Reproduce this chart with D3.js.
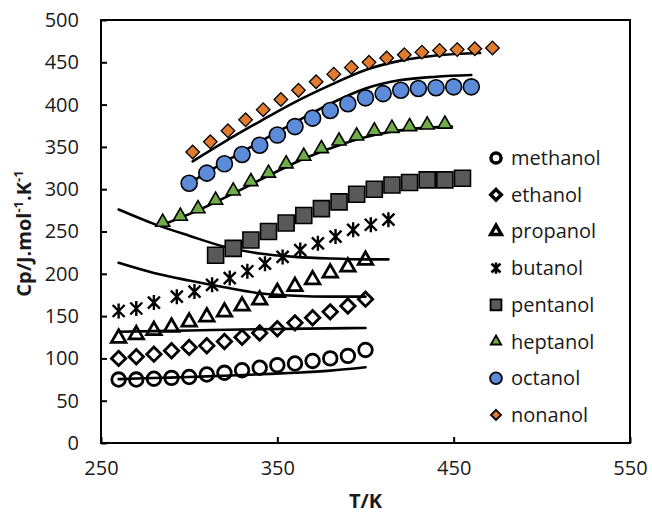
<!DOCTYPE html>
<html>
<head>
<meta charset="utf-8">
<script src="https://cdn.jsdelivr.net/npm/d3@7"></script>
<style>
  html, body { margin: 0; padding: 0; background: #fff; }
  svg { display: block; }
  text { font-family: "Open Sans", "Noto Sans", sans-serif; fill: #1a1a1a; }
</style>
</head>
<body>
<svg id="chart" width="652" height="514"></svg>
<script>
// ---------- data ----------
const seriesNames = ["methanol", "ethanol", "propanol", "butanol", "pentanol", "heptanol", "octanol", "nonanol"];

const tMethanol = [260, 270, 280, 290, 300, 310, 320, 330, 340, 350, 360, 370, 380, 390, 400];
const cpMethanol = [75, 75, 76, 77, 78, 81, 83, 86, 89, 92, 94, 97, 100, 103, 110];

const tEthanol = [260, 270, 280, 290, 300, 310, 320, 330, 340, 350, 360, 370, 380, 390, 400];
const cpEthanol = [100, 102, 105, 109, 113, 115, 120, 125, 130, 135, 142, 148, 155, 162, 170];

const tPropanol = [260, 270, 280, 290, 300, 310, 320, 330, 340, 350, 360, 370, 380, 390, 400];
const cpPropanol = [124, 128, 133, 137, 143, 149, 155, 162, 169, 178, 185, 193, 201, 208, 216];

const tButanol = [260, 270, 280, 293, 303, 313, 323, 333, 343, 353, 363, 373, 383, 393, 403, 413];
const cpButanol = [156, 159, 166, 173, 179, 187, 195, 203, 212, 220, 228, 236, 244, 252, 258, 264];

const tPentanol = [315, 325, 335, 345, 355, 365, 375, 385, 395, 405, 415, 425, 435, 445, 455];
const cpPentanol = [222, 230, 240, 250, 260, 269, 277, 285, 294, 300, 305, 308, 311, 311, 313];

const tHeptanol = [285, 295, 305, 315, 325, 335, 345, 355, 365, 375, 385, 395, 405, 415, 425, 435, 445];
const cpHeptanol = [261, 268, 277, 287, 298, 309, 319, 330, 339, 348, 357, 363, 369, 372, 374, 376, 377];

const tOctanol = [300, 310, 320, 330, 340, 350, 360, 370, 380, 390, 400, 410, 420, 430, 440, 450, 460];
const cpOctanol = [307, 319, 330, 341, 352, 364, 374, 384, 393, 401, 408, 413, 417, 419, 420, 421, 421];

const tNonanol = [302, 312, 322, 332, 342, 352, 362, 372, 382, 392, 402, 412, 422, 432, 442, 452, 462, 472];
const cpNonanol = [344, 356, 369, 382, 394, 406, 417, 427, 436, 444, 450, 455, 459, 462, 464, 465, 466, 467];

// model (calculated) curves
const tModelMethanol = [260, 280, 300, 320, 340, 360, 380, 400];
const cpModelMethanol = [75.5, 76.8, 78, 79.5, 81.2, 83, 85.5, 89.5];
const tModelEthanol = [260, 300, 340, 380, 400];
const cpModelEthanol = [131.5, 133, 134.5, 135.5, 136];
const tModelPropanol = [260, 280, 300, 320, 340, 360, 380, 400];
const cpModelPropanol = [213, 201, 192, 184, 177, 174, 173, 173];
const tModelButanol = [260, 280, 300, 320, 340, 360, 380, 400, 413];
const cpModelButanol = [276, 259, 245, 232, 224, 220, 218, 217, 217];
const tModelHeptanol = [285, 305, 325, 345, 365, 385, 405, 425, 449];
const cpModelHeptanol = [258, 275, 295, 316, 336, 352, 364, 371, 374];
const tModelOctanol = [300, 320, 340, 360, 380, 400, 420, 440, 460];
const cpModelOctanol = [307, 332, 356, 379, 401, 419, 429, 433, 435];
const tModelNonanol = [302, 320, 340, 360, 380, 400, 420, 440, 465];
const cpModelNonanol = [333, 356, 380, 403, 423, 441, 452, 458, 461];

const xTicks = [250, 350, 450, 550];
const yTicks = [0, 50, 100, 150, 200, 250, 300, 350, 400, 450, 500];

// ---------- build ----------
const zip = (t, c) => t.map((v, i) => ({ t: v, cp: c[i] }));

const measured = [
  { name: "methanol", pts: zip(tMethanol, cpMethanol), shape: "circle", fill: "#ffffff", stroke: "#000", sw: 2.8, size: 6.8 },
  { name: "ethanol", pts: zip(tEthanol, cpEthanol), shape: "diamond", fill: "#ffffff", stroke: "#000", sw: 2.8, size: 7.2 },
  { name: "propanol", pts: zip(tPropanol, cpPropanol), shape: "triangle", fill: "#ffffff", stroke: "#000", sw: 2.8, size: 14.5 },
  { name: "butanol", pts: zip(tButanol, cpButanol), shape: "star", fill: "none", stroke: "#000", sw: 2.4, size: 7.5 },
  { name: "pentanol", pts: zip(tPentanol, cpPentanol), shape: "square", fill: "#595959", stroke: "#000", sw: 1.6, size: 16 },
  { name: "heptanol", pts: zip(tHeptanol, cpHeptanol), shape: "triangle", fill: "#70AD47", stroke: "#000", sw: 1.6, size: 14 },
  { name: "octanol", pts: zip(tOctanol, cpOctanol), shape: "circle", fill: "#5B8BD9", stroke: "#000", sw: 1.6, size: 8 },
  { name: "nonanol", pts: zip(tNonanol, cpNonanol), shape: "diamond", fill: "#E07B30", stroke: "#000", sw: 1.3, size: 6.8 }
];

const models = [
  zip(tModelMethanol, cpModelMethanol),
  zip(tModelEthanol, cpModelEthanol),
  zip(tModelPropanol, cpModelPropanol),
  zip(tModelButanol, cpModelButanol),
  zip(tModelHeptanol, cpModelHeptanol),
  zip(tModelOctanol, cpModelOctanol),
  zip(tModelNonanol, cpModelNonanol)
];

const svg = d3.select("#chart");
const L = 101, R = 630, T = 20, B = 443;

const x = d3.scaleLinear().domain([250, 550]).range([L, R]);
const y = d3.scaleLinear().domain([0, 500]).range([B, T]);

// marker path generator
function markerPath(shape, s) {
  if (shape === "circle") {
    return `M${s},0A${s},${s} 0 1,1 ${-s},0A${s},${s} 0 1,1 ${s},0Z`;
  }
  if (shape === "diamond") {
    return `M0,${-s}L${s},0L0,${s}L${-s},0Z`;
  }
  if (shape === "square") {
    const h = s / 2;
    return `M${-h},${-h}H${h}V${h}H${-h}Z`;
  }
  if (shape === "triangle") {
    const a = s, hgt = a * Math.sqrt(3) / 2;
    const top = -hgt * 2 / 3, bot = hgt / 3;
    return `M0,${top}L${a / 2},${bot}L${-a / 2},${bot}Z`;
  }
  if (shape === "star") {
    const d = s * 0.8;
    return `M${-d},${-d}L${d},${d}M${d},${-d}L${-d},${d}M0,${-s}L0,${s}`;
  }
  return "";
}

const lineGen = d3.line().x(d => x(d.t)).y(d => y(d.cp)).curve(d3.curveMonotoneX);

function drawSeries(s, g) {
  g.selectAll(null)
    .data(s.pts)
    .enter()
    .append("path")
    .attr("transform", d => `translate(${x(d.t)},${y(d.cp)})`)
    .attr("d", markerPath(s.shape, s.size))
    .attr("fill", s.fill)
    .attr("stroke", s.stroke)
    .attr("stroke-width", s.sw)
    .attr("stroke-linejoin", "miter");
}

const plot = svg.append("g");

// open-marker series first
measured.slice(0, 4).forEach(s => drawSeries(s, plot.append("g").attr("class", s.name)));

// model curves
plot.append("g")
  .selectAll("path")
  .data(models)
  .enter()
  .append("path")
  .attr("d", d => lineGen(d))
  .attr("fill", "none")
  .attr("stroke", "#000")
  .attr("stroke-width", 2.6)
  .attr("stroke-linecap", "round");

// filled marker series
measured.slice(4).forEach(s => drawSeries(s, plot.append("g").attr("class", s.name)));

// frame
svg.append("rect")
  .attr("x", L).attr("y", T)
  .attr("width", R - L).attr("height", B - T)
  .attr("fill", "none")
  .attr("stroke", "#000")
  .attr("stroke-width", 2);

// axes (inward ticks)
const xAxis = d3.axisBottom(x).tickValues(xTicks).tickSize(-6).tickPadding(18).tickFormat(d3.format("d"));
const yAxis = d3.axisLeft(y).tickValues(yTicks).tickSize(-6).tickPadding(22).tickFormat(d3.format("d"));

const gx = svg.append("g").attr("transform", `translate(0,${B})`).call(xAxis);
const gy = svg.append("g").attr("transform", `translate(${L},0)`).call(yAxis);

[gx, gy].forEach(g => {
  g.select(".domain").remove();
  g.selectAll(".tick line").attr("stroke", "#000").attr("stroke-width", 2);
  g.selectAll(".tick text")
    .attr("font-family", "'Open Sans', sans-serif")
    .attr("font-size", 20)
    .attr("fill", "#1a1a1a");
});
gx.selectAll(".tick text").attr("dy", "0.71em");

// axis titles
svg.append("text")
  .attr("x", (L + R) / 2)
  .attr("y", 508)
  .attr("text-anchor", "middle")
  .attr("font-size", 20)
  .attr("font-weight", "bold")
  .text("T/K");

const yt = svg.append("text")
  .attr("transform", `translate(31,${(T + B) / 2 + 2}) rotate(-90)`)
  .attr("text-anchor", "middle")
  .attr("font-size", 20)
  .attr("font-weight", "bold");
yt.append("tspan").text("Cp/J.mol");
yt.append("tspan").attr("font-size", 13).attr("dy", -8).text("-1");
yt.append("tspan").attr("dy", 8).text(".K");
yt.append("tspan").attr("font-size", 13).attr("dy", -8).text("-1");

// legend
const legX = 496, legY0 = 158, legDy = 36.7;
const leg = svg.append("g");
measured.forEach((s, i) => {
  const g = leg.append("g").attr("transform", `translate(${legX},${legY0 + i * legDy})`);
  const k = s.shape === "square" ? 0.68 : 0.74;
  g.append("path")
    .attr("d", markerPath(s.shape, s.size * k))
    .attr("fill", s.fill)
    .attr("stroke", s.stroke)
    .attr("stroke-width", s.shape === "star" ? 2.6 : Math.max(s.sw, 1.8) + (s.fill === "#ffffff" ? 0.6 : 0));
  g.append("text")
    .attr("x", 15)
    .attr("y", 0)
    .attr("dy", "0.35em")
    .attr("font-size", 20)
    .text(seriesNames[i]);
});
</script>
</body>
</html>
